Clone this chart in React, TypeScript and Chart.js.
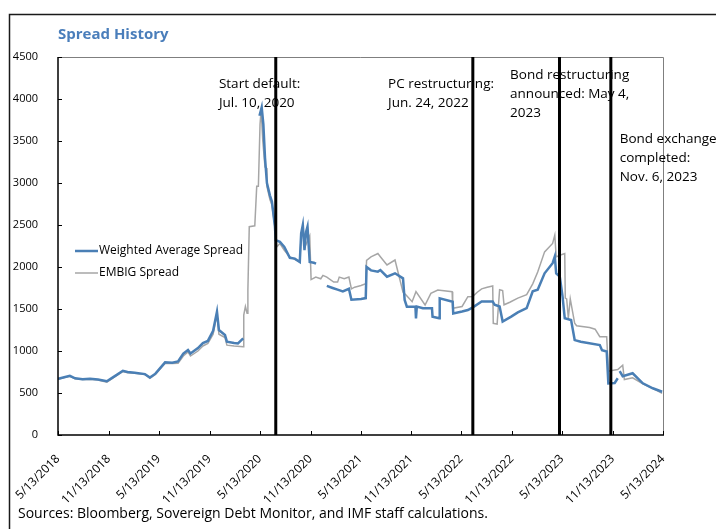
import React, { useEffect, useRef } from "react";
import { Chart, registerables } from "chart.js";
Chart.register(...registerables);

const START = "2018-05-13";
const END = "2024-05-13";

const tickDates = [
  "2018-05-13", "2018-11-13", "2019-05-13", "2019-11-13", "2020-05-13", "2020-11-13",
  "2021-05-13", "2021-11-13", "2022-05-13", "2022-11-13", "2023-05-13", "2023-11-13", "2024-05-13",
];
const tickLabels = [
  "5/13/2018", "11/13/2018", "5/13/2019", "11/13/2019", "5/13/2020", "11/13/2020",
  "5/13/2021", "11/13/2021", "5/13/2022", "11/13/2022", "5/13/2023", "11/13/2023", "5/13/2024",
];
const yTicks = [0, 500, 1000, 1500, 2000, 2500, 3000, 3500, 4000, 4500];

const embigDates = [
  "2018-05-13", "2018-06-01", "2018-06-25", "2018-07-14", "2018-08-10", "2018-09-06", "2018-10-05",
  "2018-11-06", "2018-11-25", "2018-12-16", "2019-01-03", "2019-01-20", "2019-02-15", "2019-03-24",
  "2019-04-11", "2019-05-01", "2019-06-05", "2019-07-01", "2019-07-22", "2019-08-10", "2019-08-27",
  "2019-09-05", "2019-10-02", "2019-10-20", "2019-11-07", "2019-11-26", "2019-12-10", "2019-12-17",
  "2020-01-08", "2020-01-15", "2020-02-10", "2020-03-14", "2020-03-16", "2020-03-22", "2020-03-28",
  "2020-03-31", "2020-04-05", "2020-04-25", "2020-05-02", "2020-05-08", "2020-05-14", "2020-05-18",
  "2020-05-24", "2020-06-01", "2020-06-06", "2020-06-08", "2020-06-19", "2020-06-26", "2020-07-07",
  "2020-07-14", "2020-07-25", "2020-08-10", "2020-08-30", "2020-09-17", "2020-10-05", "2020-10-10",
  "2020-10-16", "2020-10-25", "2020-11-10", "2020-11-15", "2020-12-02", "2020-12-20", "2020-12-28",
  "2021-01-11", "2021-02-05", "2021-02-19", "2021-02-25", "2021-03-15", "2021-04-01", "2021-04-10",
  "2021-04-22", "2021-05-15", "2021-06-01", "2021-06-04", "2021-06-20", "2021-07-15", "2021-07-24",
  "2021-08-17", "2021-09-15", "2021-10-14", "2021-10-25", "2021-11-16", "2021-11-30", "2022-01-02",
  "2022-01-23", "2022-02-17", "2022-04-10", "2022-04-12", "2022-05-16", "2022-06-06", "2022-06-24",
  "2022-07-10", "2022-07-26", "2022-08-15", "2022-09-04", "2022-09-06", "2022-09-20", "2022-09-29",
  "2022-10-10", "2022-10-15", "2022-11-05", "2022-12-04", "2023-01-05", "2023-01-27", "2023-02-14",
  "2023-03-11", "2023-04-09", "2023-04-17", "2023-04-22", "2023-05-05", "2023-05-23", "2023-05-25",
  "2023-05-30", "2023-06-05", "2023-06-12", "2023-06-28", "2023-07-05", "2023-08-21", "2023-09-10",
  "2023-09-27", "2023-10-22", "2023-10-28", "2023-11-15", "2023-12-01", "2023-12-19", "2023-12-25",
  "2024-01-24", "2024-03-01", "2024-04-06", "2024-05-10",
];
const embigValues = [
  660, 680, 700, 670, 660, 665, 655,
  630, 670, 720, 755, 740, 735, 720,
  675, 720, 855, 850, 855, 940, 990,
  940, 1000, 1060, 1090, 1200, 1440, 1200,
  1160, 1070, 1060, 1050, 1428, 1530, 1450,
  1726, 2480, 2490, 2960, 2960, 3700, 3870,
  3500, 3190, 3180, 2960, 2800, 2740, 2480,
  2240, 2280, 2200, 2120, 2090, 2060, 2380,
  2450, 2250, 2370, 1850, 1880, 1860, 1900,
  1880, 1820, 1820, 1880, 1860, 1880, 1740,
  1760, 1780, 1800, 2080, 2120, 2160, 2123,
  2024, 2083, 1700, 1667, 1587, 1706, 1548,
  1687, 1726, 1706, 1508, 1530, 1647, 1650,
  1700, 1740, 1760, 1775, 1330, 1320, 1730,
  1720, 1550, 1580, 1630, 1670, 1800, 1940,
  2180, 2280, 2380, 2120, 2140, 2160, 1630,
  1620, 1390, 1620, 1330, 1300, 1280, 1260,
  1170, 1170, 760, 770, 780, 830, 660,
  680, 610, 555, 495,
];

const waDates = [
  "2018-05-13", "2018-06-01", "2018-06-25", "2018-07-14", "2018-08-10", "2018-09-06", "2018-10-05",
  "2018-11-06", "2018-11-25", "2018-12-16", "2019-01-03", "2019-01-20", "2019-02-15", "2019-03-24",
  "2019-04-11", "2019-05-01", "2019-06-05", "2019-07-01", "2019-07-22", "2019-08-10", "2019-08-27",
  "2019-09-05", "2019-10-02", "2019-10-20", "2019-11-07", "2019-11-26", "2019-12-10", "2019-12-17",
  "2020-01-08", "2020-01-15", "2020-02-10", "2020-02-24", "2020-03-14", "2020-03-20",
  "2020-05-12", "2020-05-20", "2020-05-26", "2020-06-01", "2020-06-08", "2020-06-19", "2020-06-26",
  "2020-07-07", "2020-07-10", "2020-07-25", "2020-08-10", "2020-08-30", "2020-09-17", "2020-10-05",
  "2020-10-10", "2020-10-16", "2020-10-22", "2020-10-28", "2020-11-02", "2020-11-10", "2020-11-25",
  "2020-12-03", "2020-12-20",
  "2021-01-11", "2021-02-01", "2021-02-19", "2021-03-10", "2021-04-01", "2021-04-10", "2021-05-15",
  "2021-06-01", "2021-06-04", "2021-06-20", "2021-07-15", "2021-07-24", "2021-08-17", "2021-09-15",
  "2021-10-14", "2021-10-20", "2021-10-28", "2021-11-28", "2021-11-30", "2021-12-03", "2021-12-25",
  "2022-01-27", "2022-01-29", "2022-02-22", "2022-02-24", "2022-04-12", "2022-04-14", "2022-05-16",
  "2022-06-06", "2022-06-24", "2022-07-26", "2022-09-04", "2022-09-11", "2022-09-29",
  "2022-10-10", "2022-11-10", "2022-12-04", "2023-01-05", "2023-01-27", "2023-02-14", "2023-03-11",
  "2023-04-09", "2023-04-17", "2023-04-22", "2023-05-05", "2023-05-15", "2023-05-23", "2023-06-15",
  "2023-06-28", "2023-07-20", "2023-09-27", "2023-10-05", "2023-10-22", "2023-10-28", "2023-11-20",
  "2023-12-01", "2023-12-04", "2023-12-08", "2023-12-19", "2024-01-24", "2024-03-01", "2024-04-06",
  "2024-05-10",
];
const waValues = [
  670, 685, 705, 675, 665, 670, 660,
  640, 680, 725, 765, 750, 740, 725,
  685, 730, 865, 860, 875, 970, 1012,
  970, 1035, 1095, 1120, 1240, 1468, 1250,
  1190, 1111, 1095, 1090, 1150, null,
  3800, 3900, 3700, 3300, 3000, 2850, 2780,
  2480, 2320, 2300, 2240, 2110, 2100, 2060,
  2400, 2500, 2200, 2420, 2480, 2060, 2050,
  2040, null,
  1775, 1750, 1730, 1710, 1740, 1610, 1620,
  1630, 2000, 1960, 1945, 1964, 1885, 1925,
  1865, 1607, 1528, 1528, 1389, 1528, 1508,
  1508, 1409, 1389, 1627, 1587, 1448, 1470,
  1488, 1520, 1590, 1590, 1550, 1530,
  1350, 1410, 1460, 1510, 1710, 1730, 1925,
  2045, 2125, 1925, 1885, 1650, 1390, 1370,
  1130, 1110, 1070, 1010, 995, 615, 620,
  675, null, 760, 700, 735, 615, 556,
  515,
];

const eventDates = ["2020-07-10", "2022-06-24", "2023-05-04", "2023-11-06"];
const eventLabels = [
  ["Start default:", "Jul. 10, 2020"],
  ["PC restructuring:", "Jun. 24, 2022"],
  ["Bond restructuring", "announced: May 4,", "2023"],
  ["Bond exchange", "completed:", "Nov. 6, 2023"],
];
const labelAnchorDates = ["2019-12-17", "2021-08-21", "2022-11-06", "2023-12-08"];
const labelAnchorValues = [4180, 4180, 4285, 3524];

const seriesNames = ["Weighted Average Spread", "EMBIG Spread"];
const BLUE = "#4a7fb5";
const GRAY = "#a6a6a6";
const FONT = "'Open Sans', 'Noto Sans', sans-serif";

const day = (d: string) => (Date.parse(d) - Date.parse(START)) / 86400000;

const decor = {
  id: "decor",
  afterDatasetsDraw(chart: any) {
    const { ctx, chartArea: a, scales } = chart;
    const x = scales.x;
    const y = scales.y;
    ctx.save();
    ctx.strokeStyle = "#7f7f7f";
    ctx.lineWidth = 1;
    ctx.beginPath();
    ctx.moveTo(a.left, a.top + 0.5);
    ctx.lineTo(a.right + 0.5, a.top + 0.5);
    ctx.lineTo(a.right + 0.5, a.bottom);
    ctx.stroke();
    ctx.strokeStyle = "#000";
    ctx.lineWidth = 1.5;
    ctx.beginPath();
    ctx.moveTo(a.left, a.top);
    ctx.lineTo(a.left, a.bottom);
    ctx.lineTo(a.right + 1, a.bottom);
    ctx.stroke();
    ctx.lineWidth = 1;
    ctx.beginPath();
    yTicks.forEach((v) => {
      const py = Math.round(y.getPixelForValue(v)) + 0.5;
      ctx.moveTo(a.left, py);
      ctx.lineTo(a.left + 4, py);
    });
    tickDates.forEach((d) => {
      const px = Math.round(x.getPixelForValue(day(d))) + 0.5;
      ctx.moveTo(px, a.bottom);
      ctx.lineTo(px, a.bottom - 4);
    });
    ctx.stroke();
    ctx.fillStyle = "#000";
    ctx.font = `13.5px ${FONT}`;
    ctx.textAlign = "left";
    ctx.textBaseline = "middle";
    eventLabels.forEach((lines, i) => {
      const px = x.getPixelForValue(day(labelAnchorDates[i]));
      const py = y.getPixelForValue(labelAnchorValues[i]);
      lines.forEach((t, j) => ctx.fillText(t, px, py + j * 19));
    });
    ctx.strokeStyle = "#000";
    ctx.lineWidth = 3;
    ctx.beginPath();
    eventDates.forEach((d) => {
      const px = x.getPixelForValue(day(d));
      ctx.moveTo(px, a.top);
      ctx.lineTo(px, a.bottom);
    });
    ctx.stroke();
    const lx = a.left + 17;
    const ly = a.top + 194;
    const colors = [BLUE, GRAY];
    const widths = [2.5, 1.5];
    seriesNames.forEach((n, i) => {
      const yy = ly + i * 22;
      ctx.strokeStyle = colors[i];
      ctx.lineWidth = widths[i];
      ctx.beginPath();
      ctx.moveTo(lx, yy);
      ctx.lineTo(lx + 23, yy);
      ctx.stroke();
      ctx.fillStyle = "#000";
      ctx.font = `12px ${FONT}`;
      ctx.fillText(n, lx + 24, yy);
    });
    ctx.restore();
  },
  afterDraw(chart: any) {
    const { ctx, width, height } = chart;
    ctx.save();
    ctx.strokeStyle = "#1a1a1a";
    ctx.lineWidth = 1.5;
    ctx.beginPath();
    ctx.moveTo(width, 14.5);
    ctx.lineTo(9.5, 14.5);
    ctx.lineTo(9.5, height);
    ctx.stroke();
    ctx.fillStyle = "#4a7ebb";
    ctx.font = `bold 15px ${FONT}`;
    ctx.textAlign = "left";
    ctx.textBaseline = "middle";
    ctx.fillText("Spread History", 58, 35);
    ctx.fillStyle = "#000";
    ctx.font = `14px ${FONT}`;
    ctx.fillText("Sources: Bloomberg, Sovereign Debt Monitor, and IMF staff calculations.", 18, 514);
    ctx.restore();
  },
};

export default function App() {
  const ref = useRef<HTMLCanvasElement>(null);
  useEffect(() => {
    document.body.style.margin = "0";
    const canvas = ref.current!;
    const chart = new Chart(canvas, {
      type: "line",
      data: {
        datasets: [
          {
            label: seriesNames[0],
            data: waDates.map((d, i) => ({ x: day(d), y: waValues[i] })),
            borderColor: BLUE,
            borderWidth: 2.5,
            pointRadius: 0,
            spanGaps: false,
            tension: 0,
          },
          {
            label: seriesNames[1],
            data: embigDates.map((d, i) => ({ x: day(d), y: embigValues[i] })),
            borderColor: GRAY,
            borderWidth: 1.5,
            pointRadius: 0,
            spanGaps: false,
            tension: 0,
          },
        ],
      },
      plugins: [decor],
      options: {
        animation: false,
        responsive: false,
        devicePixelRatio: 1,
        layout: { padding: { top: 57, right: 53, left: 0, bottom: 0 } },
        plugins: { legend: { display: false }, title: { display: false }, tooltip: { enabled: false } },
        scales: {
          x: {
            type: "linear",
            min: 0,
            max: day(END),
            grid: { display: false },
            border: { display: false },
            afterFit: (s: any) => { s.height = 94; },
            afterBuildTicks: (s: any) => { s.ticks = tickDates.map((d) => ({ value: day(d) })); },
            ticks: {
              autoSkip: false,
              minRotation: 45,
              maxRotation: 45,
              padding: 9,
              color: "#000",
              font: { family: FONT, size: 12 },
              callback: (v: any) => {
                const i = tickDates.findIndex((d) => Math.abs(day(d) - v) < 0.5);
                return i >= 0 ? tickLabels[i] : "";
              },
            },
          },
          y: {
            min: 0,
            max: 4500,
            grid: { display: false },
            border: { display: false },
            afterFit: (s: any) => { s.width = 58; },
            afterBuildTicks: (s: any) => { s.ticks = yTicks.map((v) => ({ value: v })); },
            ticks: {
              padding: 12,
              color: "#000",
              font: { family: FONT, size: 11 },
              callback: (v: any) => String(v),
            },
          },
        },
      },
    });
    return () => chart.destroy();
  }, []);
  return (
    <div style={{ width: 716, height: 529, position: "relative" }}>
      <canvas ref={ref} width={716} height={529} style={{ display: "block" }} />
    </div>
  );
}
